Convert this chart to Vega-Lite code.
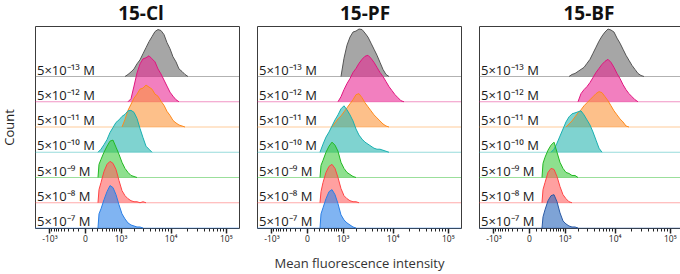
{
  "$schema": "https://vega.github.io/schema/vega-lite/v6.json",
  "background": "white",
  "padding": {"left": 2, "top": 4, "right": 0, "bottom": 0},
  "spacing": 16,
  "datasets": {
    "rows": [
      {"conc": 5e-13, "label": "5×10⁻¹³ M"},
      {"conc": 5e-12, "label": "5×10⁻¹² M"},
      {"conc": 5e-11, "label": "5×10⁻¹¹ M"},
      {"conc": 5e-10, "label": "5×10⁻¹⁰ M"},
      {"conc": 5e-9, "label": "5×10⁻⁹ M"},
      {"conc": 5e-8, "label": "5×10⁻⁸ M"},
      {"conc": 5e-7, "label": "5×10⁻⁷ M"}
    ],
    "hist": [
      {"dye":"15-Cl","conc":5e-13,"mfi":1263,"count":0},{"dye":"15-Cl","conc":5e-13,"mfi":1469,"count":8},{"dye":"15-Cl","conc":5e-13,"mfi":1703,"count":18},{"dye":"15-Cl","conc":5e-13,"mfi":1967,"count":30},{"dye":"15-Cl","conc":5e-13,"mfi":2265,"count":50},{"dye":"15-Cl","conc":5e-13,"mfi":2604,"count":66},{"dye":"15-Cl","conc":5e-13,"mfi":2986,"count":90},{"dye":"15-Cl","conc":5e-13,"mfi":3419,"count":114},{"dye":"15-Cl","conc":5e-13,"mfi":3910,"count":138},{"dye":"15-Cl","conc":5e-13,"mfi":4465,"count":158},{"dye":"15-Cl","conc":5e-13,"mfi":5093,"count":178},{"dye":"15-Cl","conc":5e-13,"mfi":5803,"count":186},{"dye":"15-Cl","conc":5e-13,"mfi":6608,"count":182},{"dye":"15-Cl","conc":5e-13,"mfi":7518,"count":166},{"dye":"15-Cl","conc":5e-13,"mfi":8549,"count":134},{"dye":"15-Cl","conc":5e-13,"mfi":9715,"count":110},{"dye":"15-Cl","conc":5e-13,"mfi":11035,"count":78},{"dye":"15-Cl","conc":5e-13,"mfi":12529,"count":58},{"dye":"15-Cl","conc":5e-13,"mfi":14220,"count":30},{"dye":"15-Cl","conc":5e-13,"mfi":16134,"count":20},{"dye":"15-Cl","conc":5e-13,"mfi":18300,"count":8},{"dye":"15-Cl","conc":5e-13,"mfi":20751,"count":0},
      {"dye":"15-Cl","conc":5e-12,"mfi":1469,"count":0},{"dye":"15-Cl","conc":5e-12,"mfi":1703,"count":12},{"dye":"15-Cl","conc":5e-12,"mfi":1967,"count":62},{"dye":"15-Cl","conc":5e-12,"mfi":2265,"count":114},{"dye":"15-Cl","conc":5e-12,"mfi":2604,"count":150},{"dye":"15-Cl","conc":5e-12,"mfi":2986,"count":170},{"dye":"15-Cl","conc":5e-12,"mfi":3419,"count":174},{"dye":"15-Cl","conc":5e-12,"mfi":3910,"count":182},{"dye":"15-Cl","conc":5e-12,"mfi":4465,"count":170},{"dye":"15-Cl","conc":5e-12,"mfi":5093,"count":158},{"dye":"15-Cl","conc":5e-12,"mfi":5803,"count":130},{"dye":"15-Cl","conc":5e-12,"mfi":6608,"count":110},{"dye":"15-Cl","conc":5e-12,"mfi":7518,"count":86},{"dye":"15-Cl","conc":5e-12,"mfi":8549,"count":62},{"dye":"15-Cl","conc":5e-12,"mfi":9715,"count":38},{"dye":"15-Cl","conc":5e-12,"mfi":11035,"count":22},{"dye":"15-Cl","conc":5e-12,"mfi":12529,"count":8},{"dye":"15-Cl","conc":5e-12,"mfi":14220,"count":0},
      {"dye":"15-Cl","conc":5e-11,"mfi":1081,"count":0},{"dye":"15-Cl","conc":5e-11,"mfi":1263,"count":30},{"dye":"15-Cl","conc":5e-11,"mfi":1469,"count":66},{"dye":"15-Cl","conc":5e-11,"mfi":1703,"count":90},{"dye":"15-Cl","conc":5e-11,"mfi":1967,"count":114},{"dye":"15-Cl","conc":5e-11,"mfi":2265,"count":130},{"dye":"15-Cl","conc":5e-11,"mfi":2604,"count":150},{"dye":"15-Cl","conc":5e-11,"mfi":2986,"count":154},{"dye":"15-Cl","conc":5e-11,"mfi":3419,"count":166},{"dye":"15-Cl","conc":5e-11,"mfi":3910,"count":158},{"dye":"15-Cl","conc":5e-11,"mfi":4465,"count":150},{"dye":"15-Cl","conc":5e-11,"mfi":5093,"count":130},{"dye":"15-Cl","conc":5e-11,"mfi":5803,"count":122},{"dye":"15-Cl","conc":5e-11,"mfi":6608,"count":102},{"dye":"15-Cl","conc":5e-11,"mfi":7518,"count":86},{"dye":"15-Cl","conc":5e-11,"mfi":8549,"count":62},{"dye":"15-Cl","conc":5e-11,"mfi":9715,"count":46},{"dye":"15-Cl","conc":5e-11,"mfi":11035,"count":26},{"dye":"15-Cl","conc":5e-11,"mfi":12529,"count":16},{"dye":"15-Cl","conc":5e-11,"mfi":14220,"count":8},{"dye":"15-Cl","conc":5e-11,"mfi":16134,"count":4},{"dye":"15-Cl","conc":5e-11,"mfi":18300,"count":0},
      {"dye":"15-Cl","conc":5e-10,"mfi":213,"count":0},{"dye":"15-Cl","conc":5e-10,"mfi":281,"count":12},{"dye":"15-Cl","conc":5e-10,"mfi":357,"count":30},{"dye":"15-Cl","conc":5e-10,"mfi":444,"count":50},{"dye":"15-Cl","conc":5e-10,"mfi":542,"count":78},{"dye":"15-Cl","conc":5e-10,"mfi":653,"count":98},{"dye":"15-Cl","conc":5e-10,"mfi":778,"count":118},{"dye":"15-Cl","conc":5e-10,"mfi":920,"count":128},{"dye":"15-Cl","conc":5e-10,"mfi":1081,"count":142},{"dye":"15-Cl","conc":5e-10,"mfi":1263,"count":150},{"dye":"15-Cl","conc":5e-10,"mfi":1469,"count":164},{"dye":"15-Cl","conc":5e-10,"mfi":1703,"count":166},{"dye":"15-Cl","conc":5e-10,"mfi":1967,"count":158},{"dye":"15-Cl","conc":5e-10,"mfi":2265,"count":134},{"dye":"15-Cl","conc":5e-10,"mfi":2604,"count":94},{"dye":"15-Cl","conc":5e-10,"mfi":2986,"count":58},{"dye":"15-Cl","conc":5e-10,"mfi":3419,"count":24},{"dye":"15-Cl","conc":5e-10,"mfi":3910,"count":12},{"dye":"15-Cl","conc":5e-10,"mfi":4465,"count":0},
      {"dye":"15-Cl","conc":5e-9,"mfi":213,"count":0},{"dye":"15-Cl","conc":5e-9,"mfi":235,"count":52},{"dye":"15-Cl","conc":5e-9,"mfi":281,"count":72},{"dye":"15-Cl","conc":5e-9,"mfi":357,"count":100},{"dye":"15-Cl","conc":5e-9,"mfi":444,"count":124},{"dye":"15-Cl","conc":5e-9,"mfi":542,"count":144},{"dye":"15-Cl","conc":5e-9,"mfi":653,"count":148},{"dye":"15-Cl","conc":5e-9,"mfi":778,"count":120},{"dye":"15-Cl","conc":5e-9,"mfi":920,"count":92},{"dye":"15-Cl","conc":5e-9,"mfi":1081,"count":60},{"dye":"15-Cl","conc":5e-9,"mfi":1263,"count":36},{"dye":"15-Cl","conc":5e-9,"mfi":1469,"count":20},{"dye":"15-Cl","conc":5e-9,"mfi":1703,"count":8},{"dye":"15-Cl","conc":5e-9,"mfi":1967,"count":4},{"dye":"15-Cl","conc":5e-9,"mfi":2265,"count":0},
      {"dye":"15-Cl","conc":5e-8,"mfi":213,"count":0},{"dye":"15-Cl","conc":5e-8,"mfi":235,"count":52},{"dye":"15-Cl","conc":5e-8,"mfi":281,"count":80},{"dye":"15-Cl","conc":5e-8,"mfi":357,"count":124},{"dye":"15-Cl","conc":5e-8,"mfi":444,"count":152},{"dye":"15-Cl","conc":5e-8,"mfi":542,"count":164},{"dye":"15-Cl","conc":5e-8,"mfi":653,"count":156},{"dye":"15-Cl","conc":5e-8,"mfi":778,"count":132},{"dye":"15-Cl","conc":5e-8,"mfi":920,"count":88},{"dye":"15-Cl","conc":5e-8,"mfi":1081,"count":48},{"dye":"15-Cl","conc":5e-8,"mfi":1263,"count":28},{"dye":"15-Cl","conc":5e-8,"mfi":1469,"count":16},{"dye":"15-Cl","conc":5e-8,"mfi":1703,"count":8},{"dye":"15-Cl","conc":5e-8,"mfi":1967,"count":4},{"dye":"15-Cl","conc":5e-8,"mfi":2265,"count":4},{"dye":"15-Cl","conc":5e-8,"mfi":2604,"count":0},{"dye":"15-Cl","conc":5e-8,"mfi":2986,"count":4},{"dye":"15-Cl","conc":5e-8,"mfi":3419,"count":0},
      {"dye":"15-Cl","conc":5e-7,"mfi":213,"count":0},{"dye":"15-Cl","conc":5e-7,"mfi":235,"count":56},{"dye":"15-Cl","conc":5e-7,"mfi":281,"count":76},{"dye":"15-Cl","conc":5e-7,"mfi":357,"count":112},{"dye":"15-Cl","conc":5e-7,"mfi":444,"count":144},{"dye":"15-Cl","conc":5e-7,"mfi":542,"count":168},{"dye":"15-Cl","conc":5e-7,"mfi":653,"count":160},{"dye":"15-Cl","conc":5e-7,"mfi":778,"count":132},{"dye":"15-Cl","conc":5e-7,"mfi":920,"count":92},{"dye":"15-Cl","conc":5e-7,"mfi":1081,"count":56},{"dye":"15-Cl","conc":5e-7,"mfi":1263,"count":36},{"dye":"15-Cl","conc":5e-7,"mfi":1469,"count":20},{"dye":"15-Cl","conc":5e-7,"mfi":1703,"count":12},{"dye":"15-Cl","conc":5e-7,"mfi":1967,"count":8},{"dye":"15-Cl","conc":5e-7,"mfi":2265,"count":4},{"dye":"15-Cl","conc":5e-7,"mfi":2604,"count":4},{"dye":"15-Cl","conc":5e-7,"mfi":2986,"count":0},

      {"dye":"15-PF","conc":5e-13,"mfi":920,"count":0},{"dye":"15-PF","conc":5e-13,"mfi":1081,"count":72},{"dye":"15-PF","conc":5e-13,"mfi":1263,"count":124},{"dye":"15-PF","conc":5e-13,"mfi":1469,"count":156},{"dye":"15-PF","conc":5e-13,"mfi":1703,"count":176},{"dye":"15-PF","conc":5e-13,"mfi":1967,"count":180},{"dye":"15-PF","conc":5e-13,"mfi":2265,"count":188},{"dye":"15-PF","conc":5e-13,"mfi":2604,"count":186},{"dye":"15-PF","conc":5e-13,"mfi":2986,"count":172},{"dye":"15-PF","conc":5e-13,"mfi":3419,"count":156},{"dye":"15-PF","conc":5e-13,"mfi":3910,"count":132},{"dye":"15-PF","conc":5e-13,"mfi":4465,"count":108},{"dye":"15-PF","conc":5e-13,"mfi":5093,"count":84},{"dye":"15-PF","conc":5e-13,"mfi":5803,"count":56},{"dye":"15-PF","conc":5e-13,"mfi":6608,"count":28},{"dye":"15-PF","conc":5e-13,"mfi":7518,"count":8},{"dye":"15-PF","conc":5e-13,"mfi":8549,"count":0},
      {"dye":"15-PF","conc":5e-12,"mfi":778,"count":0},{"dye":"15-PF","conc":5e-12,"mfi":920,"count":20},{"dye":"15-PF","conc":5e-12,"mfi":1081,"count":48},{"dye":"15-PF","conc":5e-12,"mfi":1263,"count":72},{"dye":"15-PF","conc":5e-12,"mfi":1469,"count":92},{"dye":"15-PF","conc":5e-12,"mfi":1703,"count":116},{"dye":"15-PF","conc":5e-12,"mfi":1967,"count":132},{"dye":"15-PF","conc":5e-12,"mfi":2265,"count":152},{"dye":"15-PF","conc":5e-12,"mfi":2604,"count":168},{"dye":"15-PF","conc":5e-12,"mfi":2986,"count":180},{"dye":"15-PF","conc":5e-12,"mfi":3419,"count":184},{"dye":"15-PF","conc":5e-12,"mfi":3910,"count":172},{"dye":"15-PF","conc":5e-12,"mfi":4465,"count":156},{"dye":"15-PF","conc":5e-12,"mfi":5093,"count":136},{"dye":"15-PF","conc":5e-12,"mfi":5803,"count":116},{"dye":"15-PF","conc":5e-12,"mfi":6608,"count":100},{"dye":"15-PF","conc":5e-12,"mfi":7518,"count":80},{"dye":"15-PF","conc":5e-12,"mfi":8549,"count":60},{"dye":"15-PF","conc":5e-12,"mfi":9715,"count":44},{"dye":"15-PF","conc":5e-12,"mfi":11035,"count":28},{"dye":"15-PF","conc":5e-12,"mfi":12529,"count":16},{"dye":"15-PF","conc":5e-12,"mfi":14220,"count":4},{"dye":"15-PF","conc":5e-12,"mfi":16134,"count":0},
      {"dye":"15-PF","conc":5e-11,"mfi":542,"count":0},{"dye":"15-PF","conc":5e-11,"mfi":653,"count":16},{"dye":"15-PF","conc":5e-11,"mfi":778,"count":32},{"dye":"15-PF","conc":5e-11,"mfi":920,"count":44},{"dye":"15-PF","conc":5e-11,"mfi":1081,"count":60},{"dye":"15-PF","conc":5e-11,"mfi":1263,"count":76},{"dye":"15-PF","conc":5e-11,"mfi":1469,"count":92},{"dye":"15-PF","conc":5e-11,"mfi":1703,"count":108},{"dye":"15-PF","conc":5e-11,"mfi":1967,"count":128},{"dye":"15-PF","conc":5e-11,"mfi":2265,"count":132},{"dye":"15-PF","conc":5e-11,"mfi":2604,"count":116},{"dye":"15-PF","conc":5e-11,"mfi":2986,"count":96},{"dye":"15-PF","conc":5e-11,"mfi":3419,"count":80},{"dye":"15-PF","conc":5e-11,"mfi":3910,"count":64},{"dye":"15-PF","conc":5e-11,"mfi":4465,"count":48},{"dye":"15-PF","conc":5e-11,"mfi":5093,"count":36},{"dye":"15-PF","conc":5e-11,"mfi":5803,"count":24},{"dye":"15-PF","conc":5e-11,"mfi":6608,"count":12},{"dye":"15-PF","conc":5e-11,"mfi":7518,"count":4},{"dye":"15-PF","conc":5e-11,"mfi":8549,"count":0},
      {"dye":"15-PF","conc":5e-10,"mfi":213,"count":0},{"dye":"15-PF","conc":5e-10,"mfi":281,"count":32},{"dye":"15-PF","conc":5e-10,"mfi":357,"count":60},{"dye":"15-PF","conc":5e-10,"mfi":444,"count":80},{"dye":"15-PF","conc":5e-10,"mfi":542,"count":104},{"dye":"15-PF","conc":5e-10,"mfi":653,"count":128},{"dye":"15-PF","conc":5e-10,"mfi":778,"count":148},{"dye":"15-PF","conc":5e-10,"mfi":920,"count":172},{"dye":"15-PF","conc":5e-10,"mfi":1081,"count":184},{"dye":"15-PF","conc":5e-10,"mfi":1263,"count":168},{"dye":"15-PF","conc":5e-10,"mfi":1469,"count":148},{"dye":"15-PF","conc":5e-10,"mfi":1703,"count":124},{"dye":"15-PF","conc":5e-10,"mfi":1967,"count":92},{"dye":"15-PF","conc":5e-10,"mfi":2265,"count":68},{"dye":"15-PF","conc":5e-10,"mfi":2604,"count":52},{"dye":"15-PF","conc":5e-10,"mfi":2986,"count":40},{"dye":"15-PF","conc":5e-10,"mfi":3419,"count":32},{"dye":"15-PF","conc":5e-10,"mfi":3910,"count":24},{"dye":"15-PF","conc":5e-10,"mfi":4465,"count":16},{"dye":"15-PF","conc":5e-10,"mfi":5093,"count":12},{"dye":"15-PF","conc":5e-10,"mfi":5803,"count":12},{"dye":"15-PF","conc":5e-10,"mfi":6608,"count":8},{"dye":"15-PF","conc":5e-10,"mfi":7518,"count":4},{"dye":"15-PF","conc":5e-10,"mfi":8549,"count":0},
      {"dye":"15-PF","conc":5e-9,"mfi":213,"count":0},{"dye":"15-PF","conc":5e-9,"mfi":235,"count":48},{"dye":"15-PF","conc":5e-9,"mfi":281,"count":68},{"dye":"15-PF","conc":5e-9,"mfi":357,"count":100},{"dye":"15-PF","conc":5e-9,"mfi":444,"count":124},{"dye":"15-PF","conc":5e-9,"mfi":542,"count":140},{"dye":"15-PF","conc":5e-9,"mfi":653,"count":128},{"dye":"15-PF","conc":5e-9,"mfi":778,"count":104},{"dye":"15-PF","conc":5e-9,"mfi":920,"count":60},{"dye":"15-PF","conc":5e-9,"mfi":1081,"count":36},{"dye":"15-PF","conc":5e-9,"mfi":1263,"count":20},{"dye":"15-PF","conc":5e-9,"mfi":1469,"count":12},{"dye":"15-PF","conc":5e-9,"mfi":1703,"count":4},{"dye":"15-PF","conc":5e-9,"mfi":1967,"count":0},
      {"dye":"15-PF","conc":5e-8,"mfi":213,"count":0},{"dye":"15-PF","conc":5e-8,"mfi":235,"count":44},{"dye":"15-PF","conc":5e-8,"mfi":281,"count":80},{"dye":"15-PF","conc":5e-8,"mfi":357,"count":120},{"dye":"15-PF","conc":5e-8,"mfi":444,"count":144},{"dye":"15-PF","conc":5e-8,"mfi":542,"count":152},{"dye":"15-PF","conc":5e-8,"mfi":653,"count":136},{"dye":"15-PF","conc":5e-8,"mfi":778,"count":100},{"dye":"15-PF","conc":5e-8,"mfi":920,"count":56},{"dye":"15-PF","conc":5e-8,"mfi":1081,"count":28},{"dye":"15-PF","conc":5e-8,"mfi":1263,"count":16},{"dye":"15-PF","conc":5e-8,"mfi":1469,"count":8},{"dye":"15-PF","conc":5e-8,"mfi":1703,"count":4},{"dye":"15-PF","conc":5e-8,"mfi":1967,"count":4},{"dye":"15-PF","conc":5e-8,"mfi":2265,"count":0},
      {"dye":"15-PF","conc":5e-7,"mfi":213,"count":0},{"dye":"15-PF","conc":5e-7,"mfi":235,"count":56},{"dye":"15-PF","conc":5e-7,"mfi":281,"count":80},{"dye":"15-PF","conc":5e-7,"mfi":357,"count":116},{"dye":"15-PF","conc":5e-7,"mfi":444,"count":144},{"dye":"15-PF","conc":5e-7,"mfi":542,"count":152},{"dye":"15-PF","conc":5e-7,"mfi":653,"count":132},{"dye":"15-PF","conc":5e-7,"mfi":778,"count":96},{"dye":"15-PF","conc":5e-7,"mfi":920,"count":52},{"dye":"15-PF","conc":5e-7,"mfi":1081,"count":32},{"dye":"15-PF","conc":5e-7,"mfi":1263,"count":20},{"dye":"15-PF","conc":5e-7,"mfi":1469,"count":12},{"dye":"15-PF","conc":5e-7,"mfi":1703,"count":4},{"dye":"15-PF","conc":5e-7,"mfi":1967,"count":0},

      {"dye":"15-BF","conc":5e-13,"mfi":1263,"count":0},{"dye":"15-BF","conc":5e-13,"mfi":1469,"count":8},{"dye":"15-BF","conc":5e-13,"mfi":1703,"count":12},{"dye":"15-BF","conc":5e-13,"mfi":1967,"count":20},{"dye":"15-BF","conc":5e-13,"mfi":2265,"count":28},{"dye":"15-BF","conc":5e-13,"mfi":2604,"count":36},{"dye":"15-BF","conc":5e-13,"mfi":2986,"count":52},{"dye":"15-BF","conc":5e-13,"mfi":3419,"count":68},{"dye":"15-BF","conc":5e-13,"mfi":3910,"count":92},{"dye":"15-BF","conc":5e-13,"mfi":4465,"count":116},{"dye":"15-BF","conc":5e-13,"mfi":5093,"count":140},{"dye":"15-BF","conc":5e-13,"mfi":5803,"count":160},{"dye":"15-BF","conc":5e-13,"mfi":6608,"count":176},{"dye":"15-BF","conc":5e-13,"mfi":7518,"count":188},{"dye":"15-BF","conc":5e-13,"mfi":8549,"count":184},{"dye":"15-BF","conc":5e-13,"mfi":9715,"count":176},{"dye":"15-BF","conc":5e-13,"mfi":11035,"count":152},{"dye":"15-BF","conc":5e-13,"mfi":12529,"count":132},{"dye":"15-BF","conc":5e-13,"mfi":14220,"count":108},{"dye":"15-BF","conc":5e-13,"mfi":16134,"count":84},{"dye":"15-BF","conc":5e-13,"mfi":18300,"count":64},{"dye":"15-BF","conc":5e-13,"mfi":20751,"count":44},{"dye":"15-BF","conc":5e-13,"mfi":23526,"count":28},{"dye":"15-BF","conc":5e-13,"mfi":26666,"count":12},{"dye":"15-BF","conc":5e-13,"mfi":30219,"count":4},{"dye":"15-BF","conc":5e-13,"mfi":34242,"count":0},
      {"dye":"15-BF","conc":5e-12,"mfi":1967,"count":0},{"dye":"15-BF","conc":5e-12,"mfi":2265,"count":32},{"dye":"15-BF","conc":5e-12,"mfi":2604,"count":48},{"dye":"15-BF","conc":5e-12,"mfi":2986,"count":60},{"dye":"15-BF","conc":5e-12,"mfi":3419,"count":76},{"dye":"15-BF","conc":5e-12,"mfi":3910,"count":96},{"dye":"15-BF","conc":5e-12,"mfi":4465,"count":116},{"dye":"15-BF","conc":5e-12,"mfi":5093,"count":132},{"dye":"15-BF","conc":5e-12,"mfi":5803,"count":148},{"dye":"15-BF","conc":5e-12,"mfi":6608,"count":160},{"dye":"15-BF","conc":5e-12,"mfi":7518,"count":168},{"dye":"15-BF","conc":5e-12,"mfi":8549,"count":156},{"dye":"15-BF","conc":5e-12,"mfi":9715,"count":136},{"dye":"15-BF","conc":5e-12,"mfi":11035,"count":112},{"dye":"15-BF","conc":5e-12,"mfi":12529,"count":92},{"dye":"15-BF","conc":5e-12,"mfi":14220,"count":68},{"dye":"15-BF","conc":5e-12,"mfi":16134,"count":48},{"dye":"15-BF","conc":5e-12,"mfi":18300,"count":32},{"dye":"15-BF","conc":5e-12,"mfi":20751,"count":20},{"dye":"15-BF","conc":5e-12,"mfi":23526,"count":8},{"dye":"15-BF","conc":5e-12,"mfi":26666,"count":0},
      {"dye":"15-BF","conc":5e-11,"mfi":1081,"count":0},{"dye":"15-BF","conc":5e-11,"mfi":1263,"count":12},{"dye":"15-BF","conc":5e-11,"mfi":1469,"count":24},{"dye":"15-BF","conc":5e-11,"mfi":1703,"count":40},{"dye":"15-BF","conc":5e-11,"mfi":1967,"count":56},{"dye":"15-BF","conc":5e-11,"mfi":2265,"count":68},{"dye":"15-BF","conc":5e-11,"mfi":2604,"count":84},{"dye":"15-BF","conc":5e-11,"mfi":2986,"count":96},{"dye":"15-BF","conc":5e-11,"mfi":3419,"count":108},{"dye":"15-BF","conc":5e-11,"mfi":3910,"count":120},{"dye":"15-BF","conc":5e-11,"mfi":4465,"count":132},{"dye":"15-BF","conc":5e-11,"mfi":5093,"count":140},{"dye":"15-BF","conc":5e-11,"mfi":5803,"count":136},{"dye":"15-BF","conc":5e-11,"mfi":6608,"count":120},{"dye":"15-BF","conc":5e-11,"mfi":7518,"count":104},{"dye":"15-BF","conc":5e-11,"mfi":8549,"count":84},{"dye":"15-BF","conc":5e-11,"mfi":9715,"count":64},{"dye":"15-BF","conc":5e-11,"mfi":11035,"count":48},{"dye":"15-BF","conc":5e-11,"mfi":12529,"count":32},{"dye":"15-BF","conc":5e-11,"mfi":14220,"count":20},{"dye":"15-BF","conc":5e-11,"mfi":16134,"count":4},{"dye":"15-BF","conc":5e-11,"mfi":18300,"count":0},
      {"dye":"15-BF","conc":5e-10,"mfi":444,"count":0},{"dye":"15-BF","conc":5e-10,"mfi":542,"count":12},{"dye":"15-BF","conc":5e-10,"mfi":653,"count":36},{"dye":"15-BF","conc":5e-10,"mfi":778,"count":64},{"dye":"15-BF","conc":5e-10,"mfi":920,"count":92},{"dye":"15-BF","conc":5e-10,"mfi":1081,"count":120},{"dye":"15-BF","conc":5e-10,"mfi":1263,"count":140},{"dye":"15-BF","conc":5e-10,"mfi":1469,"count":152},{"dye":"15-BF","conc":5e-10,"mfi":1703,"count":156},{"dye":"15-BF","conc":5e-10,"mfi":1967,"count":160},{"dye":"15-BF","conc":5e-10,"mfi":2265,"count":164},{"dye":"15-BF","conc":5e-10,"mfi":2604,"count":148},{"dye":"15-BF","conc":5e-10,"mfi":2986,"count":128},{"dye":"15-BF","conc":5e-10,"mfi":3419,"count":108},{"dye":"15-BF","conc":5e-10,"mfi":3910,"count":80},{"dye":"15-BF","conc":5e-10,"mfi":4465,"count":48},{"dye":"15-BF","conc":5e-10,"mfi":5093,"count":16},{"dye":"15-BF","conc":5e-10,"mfi":5803,"count":0},
      {"dye":"15-BF","conc":5e-9,"mfi":213,"count":0},{"dye":"15-BF","conc":5e-9,"mfi":235,"count":56},{"dye":"15-BF","conc":5e-9,"mfi":281,"count":80},{"dye":"15-BF","conc":5e-9,"mfi":357,"count":108},{"dye":"15-BF","conc":5e-9,"mfi":444,"count":128},{"dye":"15-BF","conc":5e-9,"mfi":542,"count":140},{"dye":"15-BF","conc":5e-9,"mfi":653,"count":100},{"dye":"15-BF","conc":5e-9,"mfi":778,"count":60},{"dye":"15-BF","conc":5e-9,"mfi":920,"count":36},{"dye":"15-BF","conc":5e-9,"mfi":1081,"count":20},{"dye":"15-BF","conc":5e-9,"mfi":1263,"count":16},{"dye":"15-BF","conc":5e-9,"mfi":1469,"count":8},{"dye":"15-BF","conc":5e-9,"mfi":1703,"count":8},{"dye":"15-BF","conc":5e-9,"mfi":1967,"count":0},
      {"dye":"15-BF","conc":5e-8,"mfi":213,"count":0},{"dye":"15-BF","conc":5e-8,"mfi":235,"count":52},{"dye":"15-BF","conc":5e-8,"mfi":281,"count":80},{"dye":"15-BF","conc":5e-8,"mfi":357,"count":120},{"dye":"15-BF","conc":5e-8,"mfi":444,"count":136},{"dye":"15-BF","conc":5e-8,"mfi":542,"count":132},{"dye":"15-BF","conc":5e-8,"mfi":653,"count":104},{"dye":"15-BF","conc":5e-8,"mfi":778,"count":64},{"dye":"15-BF","conc":5e-8,"mfi":920,"count":32},{"dye":"15-BF","conc":5e-8,"mfi":1081,"count":16},{"dye":"15-BF","conc":5e-8,"mfi":1263,"count":4},{"dye":"15-BF","conc":5e-8,"mfi":1469,"count":0},
      {"dye":"15-BF","conc":5e-7,"mfi":213,"count":0},{"dye":"15-BF","conc":5e-7,"mfi":235,"count":44},{"dye":"15-BF","conc":5e-7,"mfi":281,"count":72},{"dye":"15-BF","conc":5e-7,"mfi":357,"count":108},{"dye":"15-BF","conc":5e-7,"mfi":444,"count":128},{"dye":"15-BF","conc":5e-7,"mfi":542,"count":132},{"dye":"15-BF","conc":5e-7,"mfi":653,"count":104},{"dye":"15-BF","conc":5e-7,"mfi":778,"count":60},{"dye":"15-BF","conc":5e-7,"mfi":920,"count":28},{"dye":"15-BF","conc":5e-7,"mfi":1081,"count":16},{"dye":"15-BF","conc":5e-7,"mfi":1263,"count":8},{"dye":"15-BF","conc":5e-7,"mfi":1469,"count":4},{"dye":"15-BF","conc":5e-7,"mfi":1703,"count":4},{"dye":"15-BF","conc":5e-7,"mfi":1967,"count":0}
    ]
  },
  "hconcat": [
    {
      "width": 204, "height": 202,
      "title": {"text": "15-Cl", "dx": 4},
      "layer": [
        {
          "data": {"name": "rows"},
          "transform": [{"calculate": "100 * (-7 - round(log(datum.conc / 5) / LN10))", "as": "base"}],
          "mark": {"type": "rule", "strokeWidth": 1, "strokeOpacity": 0.45},
          "encoding": {
            "y": {"field": "base", "type": "quantitative", "scale": {"domain": [0, 800], "nice": false}, "axis": {"title": "Count"}},
            "stroke": {"field": "conc", "type": "nominal", "legend": null, "scale": {"domain": [5e-13, 5e-12, 5e-11, 5e-10, 5e-9, 5e-8, 5e-7], "range": ["#555555", "#e0157f", "#ff8a1c", "#18b0b0", "#22b822", "#ff4444", "#2a7fe6"]}}
          }
        },
        {
          "data": {"name": "hist"},
          "transform": [
            {"filter": "datum.dye === '15-Cl'"},
            {"calculate": "100 * (-7 - round(log(datum.conc / 5) / LN10))", "as": "base"},
            {"calculate": "datum.base + datum.count", "as": "top"}
          ],
          "mark": {"type": "area", "fillOpacity": 0.6},
          "encoding": {
            "x": {"field": "mfi", "type": "quantitative",
                  "scale": {"type": "symlog", "constant": 300, "domain": [-2062, 172460], "nice": false, "zero": false},
                  "axis": {"title": null, "values": [-1000,-900,-800,-700,-600,-500,-400,-300,-200,-100,0,100,200,300,400,500,600,700,800,900,1000,2000,3000,4000,5000,6000,7000,8000,9000,10000,20000,30000,40000,50000,60000,70000,80000,90000,100000], "labelExpr": "datum.value == -1000 ? '-10³' : datum.value == 0 ? '0' : datum.value == 1000 ? '10³' : datum.value == 10000 ? '10⁴' : datum.value == 100000 ? '10⁵' : ''", "tickSize": {"condition": {"test": "indexof([-1000, 0, 1000, 10000, 100000], datum.value) >= 0", "value": 5}, "value": 3}, "tickWidth": {"condition": {"test": "indexof([-1000, 0, 1000, 10000, 100000], datum.value) >= 0", "value": 1.5}, "value": 1}}},
            "y": {"field": "top", "type": "quantitative", "scale": {"domain": [0, 800], "nice": false}, "axis": {"title": "Count"}},
            "y2": {"field": "base"},
            "fill": {"field": "conc", "type": "nominal", "legend": null, "scale": {"domain": [5e-13, 5e-12, 5e-11, 5e-10, 5e-9, 5e-8, 5e-7], "range": ["#6b6b6b", "#e92a94", "#fc963c", "#2ab6b1", "#43cb43", "#ff6161", "#2b82e9"]}}
          }
        },
        {
          "data": {"name": "hist"},
          "transform": [
            {"filter": "datum.dye === '15-Cl'"},
            {"calculate": "100 * (-7 - round(log(datum.conc / 5) / LN10))", "as": "base"},
            {"calculate": "datum.base + datum.count", "as": "top"}
          ],
          "mark": {"type": "line", "strokeWidth": 1},
          "encoding": {
            "x": {"field": "mfi", "type": "quantitative",
                  "axis": {"title": null, "values": [-1000,-900,-800,-700,-600,-500,-400,-300,-200,-100,0,100,200,300,400,500,600,700,800,900,1000,2000,3000,4000,5000,6000,7000,8000,9000,10000,20000,30000,40000,50000,60000,70000,80000,90000,100000], "labelExpr": "datum.value == -1000 ? '-10³' : datum.value == 0 ? '0' : datum.value == 1000 ? '10³' : datum.value == 10000 ? '10⁴' : datum.value == 100000 ? '10⁵' : ''", "tickSize": {"condition": {"test": "indexof([-1000, 0, 1000, 10000, 100000], datum.value) >= 0", "value": 5}, "value": 3}, "tickWidth": {"condition": {"test": "indexof([-1000, 0, 1000, 10000, 100000], datum.value) >= 0", "value": 1.5}, "value": 1}}},
            "y": {"field": "top", "type": "quantitative", "axis": {"title": "Count"}},
            "stroke": {"field": "conc", "type": "nominal", "legend": null}
          }
        },
        {
          "data": {"name": "rows"},
          "transform": [{"calculate": "100 * (-7 - round(log(datum.conc / 5) / LN10))", "as": "base"}],
          "mark": {"type": "text", "align": "left", "baseline": "alphabetic", "dx": 2, "dy": -2, "fontSize": 13, "color": "#1a1a1a"},
          "encoding": {
            "x": {"datum": -2062, "type": "quantitative",
                  "axis": {"title": null, "values": [-1000,-900,-800,-700,-600,-500,-400,-300,-200,-100,0,100,200,300,400,500,600,700,800,900,1000,2000,3000,4000,5000,6000,7000,8000,9000,10000,20000,30000,40000,50000,60000,70000,80000,90000,100000], "labelExpr": "datum.value == -1000 ? '-10³' : datum.value == 0 ? '0' : datum.value == 1000 ? '10³' : datum.value == 10000 ? '10⁴' : datum.value == 100000 ? '10⁵' : ''", "tickSize": {"condition": {"test": "indexof([-1000, 0, 1000, 10000, 100000], datum.value) >= 0", "value": 5}, "value": 3}, "tickWidth": {"condition": {"test": "indexof([-1000, 0, 1000, 10000, 100000], datum.value) >= 0", "value": 1.5}, "value": 1}}},
            "y": {"field": "base", "type": "quantitative", "axis": {"title": "Count"}},
            "text": {"field": "label"}
          }
        }
      ]
    },
    {
      "width": 204, "height": 202,
      "title": {"text": "15-PF", "dx": 6},
      "layer": [
        {
          "data": {"name": "rows"},
          "transform": [{"calculate": "100 * (-7 - round(log(datum.conc / 5) / LN10))", "as": "base"}],
          "mark": {"type": "rule", "strokeWidth": 1, "strokeOpacity": 0.45},
          "encoding": {
            "y": {"field": "base", "type": "quantitative", "scale": {"domain": [0, 800], "nice": false}, "axis": {"title": null}},
            "stroke": {"field": "conc", "type": "nominal", "legend": null, "scale": {"domain": [5e-13, 5e-12, 5e-11, 5e-10, 5e-9, 5e-8, 5e-7], "range": ["#555555", "#e0157f", "#ff8a1c", "#18b0b0", "#22b822", "#ff4444", "#2a7fe6"]}}
          }
        },
        {
          "data": {"name": "hist"},
          "transform": [
            {"filter": "datum.dye === '15-PF'"},
            {"calculate": "100 * (-7 - round(log(datum.conc / 5) / LN10))", "as": "base"},
            {"calculate": "datum.base + datum.count", "as": "top"}
          ],
          "mark": {"type": "area", "fillOpacity": 0.6},
          "encoding": {
            "x": {"field": "mfi", "type": "quantitative",
                  "scale": {"type": "symlog", "constant": 300, "domain": [-2062, 172460], "nice": false, "zero": false},
                  "axis": {"title": "Mean fluorescence intensity", "values": [-1000,-900,-800,-700,-600,-500,-400,-300,-200,-100,0,100,200,300,400,500,600,700,800,900,1000,2000,3000,4000,5000,6000,7000,8000,9000,10000,20000,30000,40000,50000,60000,70000,80000,90000,100000], "labelExpr": "datum.value == -1000 ? '-10³' : datum.value == 0 ? '0' : datum.value == 1000 ? '10³' : datum.value == 10000 ? '10⁴' : datum.value == 100000 ? '10⁵' : ''", "tickSize": {"condition": {"test": "indexof([-1000, 0, 1000, 10000, 100000], datum.value) >= 0", "value": 5}, "value": 3}, "tickWidth": {"condition": {"test": "indexof([-1000, 0, 1000, 10000, 100000], datum.value) >= 0", "value": 1.5}, "value": 1}}},
            "y": {"field": "top", "type": "quantitative", "scale": {"domain": [0, 800], "nice": false}, "axis": {"title": null}},
            "y2": {"field": "base"},
            "fill": {"field": "conc", "type": "nominal", "legend": null, "scale": {"domain": [5e-13, 5e-12, 5e-11, 5e-10, 5e-9, 5e-8, 5e-7], "range": ["#6b6b6b", "#e92a94", "#fc963c", "#2ab6b1", "#43cb43", "#ff6161", "#2b82e9"]}}
          }
        },
        {
          "data": {"name": "hist"},
          "transform": [
            {"filter": "datum.dye === '15-PF'"},
            {"calculate": "100 * (-7 - round(log(datum.conc / 5) / LN10))", "as": "base"},
            {"calculate": "datum.base + datum.count", "as": "top"}
          ],
          "mark": {"type": "line", "strokeWidth": 1},
          "encoding": {
            "x": {"field": "mfi", "type": "quantitative",
                  "axis": {"title": "Mean fluorescence intensity", "values": [-1000,-900,-800,-700,-600,-500,-400,-300,-200,-100,0,100,200,300,400,500,600,700,800,900,1000,2000,3000,4000,5000,6000,7000,8000,9000,10000,20000,30000,40000,50000,60000,70000,80000,90000,100000], "labelExpr": "datum.value == -1000 ? '-10³' : datum.value == 0 ? '0' : datum.value == 1000 ? '10³' : datum.value == 10000 ? '10⁴' : datum.value == 100000 ? '10⁵' : ''", "tickSize": {"condition": {"test": "indexof([-1000, 0, 1000, 10000, 100000], datum.value) >= 0", "value": 5}, "value": 3}, "tickWidth": {"condition": {"test": "indexof([-1000, 0, 1000, 10000, 100000], datum.value) >= 0", "value": 1.5}, "value": 1}}},
            "y": {"field": "top", "type": "quantitative", "axis": {"title": null}},
            "stroke": {"field": "conc", "type": "nominal", "legend": null}
          }
        },
        {
          "data": {"name": "rows"},
          "transform": [{"calculate": "100 * (-7 - round(log(datum.conc / 5) / LN10))", "as": "base"}],
          "mark": {"type": "text", "align": "left", "baseline": "alphabetic", "dx": 2, "dy": -2, "fontSize": 13, "color": "#1a1a1a"},
          "encoding": {
            "x": {"datum": -2062, "type": "quantitative",
                  "axis": {"title": "Mean fluorescence intensity", "values": [-1000,-900,-800,-700,-600,-500,-400,-300,-200,-100,0,100,200,300,400,500,600,700,800,900,1000,2000,3000,4000,5000,6000,7000,8000,9000,10000,20000,30000,40000,50000,60000,70000,80000,90000,100000], "labelExpr": "datum.value == -1000 ? '-10³' : datum.value == 0 ? '0' : datum.value == 1000 ? '10³' : datum.value == 10000 ? '10⁴' : datum.value == 100000 ? '10⁵' : ''", "tickSize": {"condition": {"test": "indexof([-1000, 0, 1000, 10000, 100000], datum.value) >= 0", "value": 5}, "value": 3}, "tickWidth": {"condition": {"test": "indexof([-1000, 0, 1000, 10000, 100000], datum.value) >= 0", "value": 1.5}, "value": 1}}},
            "y": {"field": "base", "type": "quantitative", "axis": {"title": null}},
            "text": {"field": "label"}
          }
        }
      ]
    },
    {
      "width": 204, "height": 202,
      "title": {"text": "15-BF", "dx": 8},
      "layer": [
        {
          "data": {"name": "rows"},
          "transform": [{"calculate": "100 * (-7 - round(log(datum.conc / 5) / LN10))", "as": "base"}],
          "mark": {"type": "rule", "strokeWidth": 1, "strokeOpacity": 0.45},
          "encoding": {
            "y": {"field": "base", "type": "quantitative", "scale": {"domain": [0, 800], "nice": false}, "axis": {"title": null}},
            "stroke": {"field": "conc", "type": "nominal", "legend": null, "scale": {"domain": [5e-13, 5e-12, 5e-11, 5e-10, 5e-9, 5e-8, 5e-7], "range": ["#555555", "#e0157f", "#ff8a1c", "#18b0b0", "#22b822", "#ff4444", "#2a5aa5"]}}
          }
        },
        {
          "data": {"name": "hist"},
          "transform": [
            {"filter": "datum.dye === '15-BF'"},
            {"calculate": "100 * (-7 - round(log(datum.conc / 5) / LN10))", "as": "base"},
            {"calculate": "datum.base + datum.count", "as": "top"}
          ],
          "mark": {"type": "area", "fillOpacity": 0.6},
          "encoding": {
            "x": {"field": "mfi", "type": "quantitative",
                  "scale": {"type": "symlog", "constant": 300, "domain": [-2062, 172460], "nice": false, "zero": false},
                  "axis": {"title": null, "values": [-1000,-900,-800,-700,-600,-500,-400,-300,-200,-100,0,100,200,300,400,500,600,700,800,900,1000,2000,3000,4000,5000,6000,7000,8000,9000,10000,20000,30000,40000,50000,60000,70000,80000,90000,100000], "labelExpr": "datum.value == -1000 ? '-10³' : datum.value == 0 ? '0' : datum.value == 1000 ? '10³' : datum.value == 10000 ? '10⁴' : datum.value == 100000 ? '10⁵' : ''", "tickSize": {"condition": {"test": "indexof([-1000, 0, 1000, 10000, 100000], datum.value) >= 0", "value": 5}, "value": 3}, "tickWidth": {"condition": {"test": "indexof([-1000, 0, 1000, 10000, 100000], datum.value) >= 0", "value": 1.5}, "value": 1}}},
            "y": {"field": "top", "type": "quantitative", "scale": {"domain": [0, 800], "nice": false}, "axis": {"title": null}},
            "y2": {"field": "base"},
            "fill": {"field": "conc", "type": "nominal", "legend": null, "scale": {"domain": [5e-13, 5e-12, 5e-11, 5e-10, 5e-9, 5e-8, 5e-7], "range": ["#6b6b6b", "#e92a94", "#fc963c", "#2ab6b1", "#43cb43", "#ff6161", "#2866bb"]}}
          }
        },
        {
          "data": {"name": "hist"},
          "transform": [
            {"filter": "datum.dye === '15-BF'"},
            {"calculate": "100 * (-7 - round(log(datum.conc / 5) / LN10))", "as": "base"},
            {"calculate": "datum.base + datum.count", "as": "top"}
          ],
          "mark": {"type": "line", "strokeWidth": 1},
          "encoding": {
            "x": {"field": "mfi", "type": "quantitative",
                  "axis": {"title": null, "values": [-1000,-900,-800,-700,-600,-500,-400,-300,-200,-100,0,100,200,300,400,500,600,700,800,900,1000,2000,3000,4000,5000,6000,7000,8000,9000,10000,20000,30000,40000,50000,60000,70000,80000,90000,100000], "labelExpr": "datum.value == -1000 ? '-10³' : datum.value == 0 ? '0' : datum.value == 1000 ? '10³' : datum.value == 10000 ? '10⁴' : datum.value == 100000 ? '10⁵' : ''", "tickSize": {"condition": {"test": "indexof([-1000, 0, 1000, 10000, 100000], datum.value) >= 0", "value": 5}, "value": 3}, "tickWidth": {"condition": {"test": "indexof([-1000, 0, 1000, 10000, 100000], datum.value) >= 0", "value": 1.5}, "value": 1}}},
            "y": {"field": "top", "type": "quantitative", "axis": {"title": null}},
            "stroke": {"field": "conc", "type": "nominal", "legend": null}
          }
        },
        {
          "data": {"name": "rows"},
          "transform": [{"calculate": "100 * (-7 - round(log(datum.conc / 5) / LN10))", "as": "base"}],
          "mark": {"type": "text", "align": "left", "baseline": "alphabetic", "dx": 2, "dy": -2, "fontSize": 13, "color": "#1a1a1a"},
          "encoding": {
            "x": {"datum": -2062, "type": "quantitative",
                  "axis": {"title": null, "values": [-1000,-900,-800,-700,-600,-500,-400,-300,-200,-100,0,100,200,300,400,500,600,700,800,900,1000,2000,3000,4000,5000,6000,7000,8000,9000,10000,20000,30000,40000,50000,60000,70000,80000,90000,100000], "labelExpr": "datum.value == -1000 ? '-10³' : datum.value == 0 ? '0' : datum.value == 1000 ? '10³' : datum.value == 10000 ? '10⁴' : datum.value == 100000 ? '10⁵' : ''", "tickSize": {"condition": {"test": "indexof([-1000, 0, 1000, 10000, 100000], datum.value) >= 0", "value": 5}, "value": 3}, "tickWidth": {"condition": {"test": "indexof([-1000, 0, 1000, 10000, 100000], datum.value) >= 0", "value": 1.5}, "value": 1}}},
            "y": {"field": "base", "type": "quantitative", "axis": {"title": null}},
            "text": {"field": "label"}
          }
        }
      ]
    }
  ],
  "resolve": {"scale": {"fill": "independent", "stroke": "independent"}},
  "config": {
    "font": "Open Sans",
    "view": {"stroke": "#3c3c3c", "strokeWidth": 1},
    "title": {"fontSize": 19, "fontWeight": "bold", "color": "#111111", "offset": 2},
    "axisX": {"domain": false, "grid": false, "labelFontSize": 8.5, "labelColor": "#222222", "tickColor": "#222222", "labelPadding": 1, "labelOverlap": false, "labelBound": false, "labelFlush": false, "titleFontSize": 13, "titleFontWeight": "normal", "titleColor": "#333333", "titlePadding": 15},
    "axisY": {"grid": false, "ticks": false, "labels": false, "domain": false, "titleFontSize": 13, "titleFontWeight": "normal", "titleColor": "#222222", "titlePadding": 19}
  }
}
